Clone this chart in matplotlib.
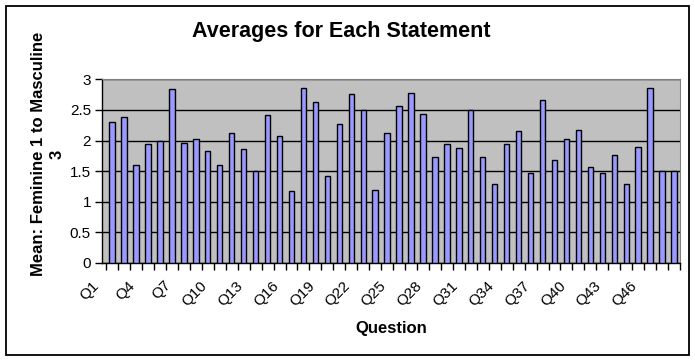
import numpy as np
import matplotlib
matplotlib.use("Agg")
import matplotlib.pyplot as plt
from matplotlib.patches import Rectangle

plt.rcParams["font.family"] = ["Liberation Sans", "DejaVu Sans"]

# --- data ------------------------------------------------------------------
questions = [f"Q{i}" for i in range(1, 49)]
averages = [
    2.30, 2.38, 1.60, 1.94, 2.00, 2.84, 1.96, 2.02, 1.83, 1.60,
    2.12, 1.86, 1.51, 2.41, 2.07, 1.17, 2.85, 2.63, 1.42, 2.27,
    2.76, 2.50, 1.20, 2.12, 2.56, 2.77, 2.43, 1.73, 1.94, 1.87,
    2.50, 1.73, 1.29, 1.94, 2.15, 1.47, 2.66, 1.68, 2.02, 2.18,
    1.56, 1.47, 1.76, 1.29, 1.89, 2.85, 1.50, 1.50,
]
y_ticks = [0, 0.5, 1, 1.5, 2, 2.5, 3]
y_tick_labels = ["0", "0.5", "1", "1.5", "2", "2.5", "3"]

fig = plt.figure(figsize=(6.95, 3.6), dpi=100)
fig.patch.set_facecolor("white")
# outer chart border
fig.patches.append(Rectangle((5.5 / 695, 1 - 355 / 360), 683.5 / 695, 349.5 / 360,
                             transform=fig.transFigure, fill=False,
                             edgecolor="black", lw=1.3))

ax = fig.add_axes([102 / 695, 1 - 263 / 360, 578 / 695, 183.7 / 360])
ax.set_facecolor("#C0C0C0")

x = np.arange(len(averages))
ax.bar(x, averages, width=0.45, color="#9999FF", edgecolor="black", lw=1, zorder=3)

ax.set_xlim(-0.5, len(averages) - 0.5)
ax.set_ylim(0, 3)
ax.set_yticks(y_ticks)
ax.set_yticklabels(y_tick_labels, fontsize=11)
ax.yaxis.grid(True, color="black", lw=1)
ax.set_axisbelow(True)
ax.tick_params(axis="y", length=5, width=1, pad=3)

# ticks at category boundaries, labels every third question
ax.set_xticks(np.arange(-0.5, len(averages)), minor=True)
ax.tick_params(axis="x", which="minor", length=5, width=1)
lab_pos = x[::3] - 0.85
ax.set_xticks(lab_pos)
ax.set_xticklabels(questions[::3], rotation=45, ha="right", va="top", fontsize=11)
ax.tick_params(axis="x", which="major", length=0, pad=11)

for s in ["top", "right"]:
    ax.spines[s].set_color("#808080")
for s in ["left", "bottom"]:
    ax.spines[s].set_color("black")
    ax.spines[s].set_linewidth(1)

fig.text(341 / 695, 1 - 32 / 360, "Averages for Each Statement",
         ha="center", va="center", fontsize=15.5, fontweight="bold")
fig.text(391 / 695, 1 - 328 / 360, "Question", ha="center", va="center",
         fontsize=12, fontweight="bold")
fig.text(48 / 695, 1 - 154 / 360, "Mean: Feminine 1 to Masculine\n3",
         ha="center", va="center", rotation=90, fontsize=12,
         fontweight="bold", linespacing=1.25)

fig.savefig("out.png", dpi=100)
